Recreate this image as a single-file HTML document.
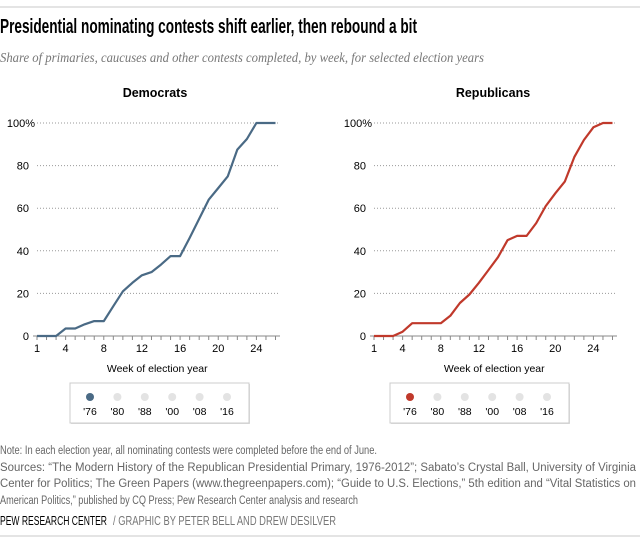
<!DOCTYPE html>
<html><head><meta charset="utf-8"><style>
body{margin:0;background:#fff;}
svg{display:block;}
</style></head><body>
<svg width="640" height="544" viewBox="0 0 640 544" xmlns="http://www.w3.org/2000/svg">
<line x1="0" y1="7" x2="640" y2="7" stroke="#c8c8c8"/>
<text x="0" y="33" font-family="Liberation Sans Narrow, Liberation Sans, sans-serif" font-weight="bold" font-size="20" fill="#000" textLength="417" lengthAdjust="spacingAndGlyphs">Presidential nominating contests shift earlier, then rebound a bit</text>
<text x="0" y="62" font-family="Liberation Serif, serif" font-style="italic" font-size="14" fill="#777" textLength="484" lengthAdjust="spacingAndGlyphs">Share of primaries, caucuses and other contests completed, by week, for selected election years</text>
<g id="panels"></g>
<g font-family="Liberation Sans Narrow, Liberation Sans, sans-serif" font-size="11.5" fill="#666">
<text x="0" y="454" textLength="377" lengthAdjust="spacingAndGlyphs">Note: In each election year, all nominating contests were completed before the end of June.</text>
<text x="0" y="471" textLength="636" lengthAdjust="spacingAndGlyphs">Sources: “The Modern History of the Republican Presidential Primary, 1976-2012”; Sabato’s Crystal Ball, University of Virginia</text>
<text x="0" y="487" textLength="636" lengthAdjust="spacingAndGlyphs">Center for Politics; The Green Papers (www.thegreenpapers.com); “Guide to U.S. Elections,” 5th edition and “Vital Statistics on</text>
<text x="0" y="504" textLength="358" lengthAdjust="spacingAndGlyphs">American Politics,” published by CQ Press; Pew Research Center analysis and research</text>
</g>
<text x="0" y="525" font-family="Liberation Sans Narrow, Liberation Sans, sans-serif" font-size="12.5" fill="#000" textLength="107" lengthAdjust="spacingAndGlyphs">PEW RESEARCH CENTER</text>
<text x="113" y="525" font-family="Liberation Sans Narrow, Liberation Sans, sans-serif" font-size="12.5" fill="#777" textLength="223" lengthAdjust="spacingAndGlyphs">/  GRAPHIC BY PETER BELL AND DREW DESILVER</text>
<line x1="0" y1="536" x2="640" y2="536" stroke="#c8c8c8"/>
</svg>
<script>
const weeks = [1,2,3,4,5,6,7,8,9,10,11,12,13,14,15,16,17,18,19,20,21,22,23,24,25,26];
const demValues = [0,0,0,3.5,3.5,5.5,7,7,14,21,25,28.5,30,33.5,37.5,37.5,46,55,64,69.5,75,87.5,92.5,100,100,100];
const repValues = [0,0,0,2,6,6,6,6,9.5,15.5,19.5,25,31,37,45,47,47,53,61,67,72.5,84,92,98,100,100];
const yTicks = [0,20,40,60,80,100];
const yTickLabels = ['0','20','40','60','80','100%'];
const xTickLabels = [1,4,8,12,16,20,24];
const legendYears = ["'76","'80","'88","'00","'08","'16"];

const NS = 'http://www.w3.org/2000/svg';
const root = document.getElementById('panels');
function mk(tag, attrs, parent){
  const e = document.createElementNS(NS, tag);
  for (const k in attrs) e.setAttribute(k, attrs[k]);
  parent.appendChild(e);
  return e;
}
const panels = [
  {title:'Democrats', values:demValues, color:'#4a6a85', x0:37, gridEnd:280, titleX:155, key:'democrats', boxX:70},
  {title:'Republicans', values:repValues, color:'#c0392b', x0:374, gridEnd:617, titleX:493, key:'republicans', boxX:390}
];
const yBase = 336, yTop = 123, wStep = 9.54;
panels.forEach(p => {
  const g = mk('g', {}, root);
  
  
  const xs = w => p.x0 + (w - 1) * wStep;
  const ys = v => yBase - (v / 100) * (yBase - yTop);
  const t = mk('text', {x:p.titleX, y:97, 'text-anchor':'middle', 'font-family':'Liberation Sans, sans-serif', 'font-weight':'bold', 'font-size':'12.5', fill:'#000'}, g);
  t.textContent = p.title;
  
  
  yTicks.forEach((v, i) => {
    if (v > 0) {
      const gl = mk('line', {x1:p.x0, x2:p.gridEnd, y1:ys(v), y2:ys(v), stroke:'#999', 'stroke-width':'1', 'stroke-dasharray':'1,2'}, g);
      
      
    }
    const tl = mk('text', {x: v===100 ? p.x0 - 2 : p.x0 - 8, y: ys(v) + 4, 'text-anchor':'end', 'font-family':'Liberation Sans, sans-serif', 'font-size':'11', fill:'#000'}, g);
    tl.textContent = yTickLabels[i];
    
    
  });
  const ax = mk('line', {x1:p.x0 - 4, x2:p.gridEnd, y1:yBase, y2:yBase, stroke:'#888', 'stroke-width':'1'}, g);
  
  
  weeks.forEach(w => {
    const tk = mk('line', {x1:xs(w), x2:xs(w), y1:yBase, y2:yBase + 4, stroke:'#888'}, g);
    
    
  });
  xTickLabels.forEach(w => {
    const xl = mk('text', {x:xs(w), y:yBase + 16, 'text-anchor':'middle', 'font-family':'Liberation Sans, sans-serif', 'font-size':'11', fill:'#000'}, g);
    xl.textContent = w;
    
    
  });
  const xt = mk('text', {x:(xs(1)+xs(26))/2 + 1, y:372, 'text-anchor':'middle', 'font-family':'Liberation Sans, sans-serif', 'font-size':'10.5', fill:'#000'}, g);
  xt.textContent = 'Week of election year';
  
  
  const pts = weeks.map((w, i) => xs(w).toFixed(1) + ',' + ys(p.values[i]).toFixed(1)).join(' ');
  const pl = mk('polyline', {points:pts, fill:'none', stroke:p.color, 'stroke-width':'2.2', 'stroke-linejoin':'round'}, g);
  
  
  const lg = mk('g', {}, g);
  
  
  mk('rect', {x:p.boxX + 1, y:384, width:179, height:40, fill:'#ddd'}, lg);
  const box = mk('rect', {x:p.boxX, y:383, width:179, height:40, fill:'#fff', stroke:'#ccc'}, lg);
  
  
  legendYears.forEach((yr, i) => {
    const cx = p.boxX + 20 + i * 27.4;
    const e = mk('g', {}, lg);
    
    
    mk('circle', {cx:cx, cy:397, r:4, fill: i === 0 ? p.color : '#e3e3e3'}, e);
    const lt = mk('text', {x:cx, y:415, 'text-anchor':'middle', 'font-family':'Liberation Sans, sans-serif', 'font-size':'10.5', fill:'#000'}, e);
    lt.textContent = yr;
  });
});
</script>
</body></html>
